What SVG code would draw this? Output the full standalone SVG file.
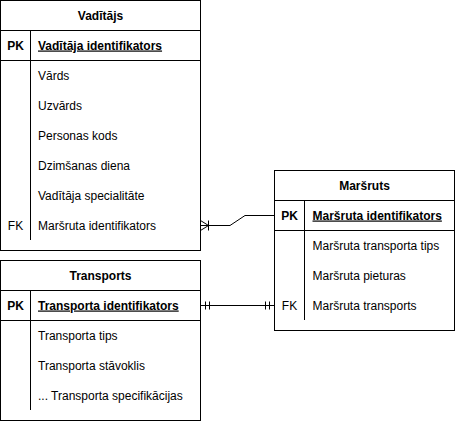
<svg xmlns="http://www.w3.org/2000/svg" width="455" height="421" viewBox="0 0 455 421">
<style>
text{font-family:"Liberation Sans",Arial,sans-serif;font-size:12px;fill:#000}
.t{font-weight:bold;text-anchor:middle}
.k{text-anchor:middle}
.pk{font-weight:bold;text-anchor:middle}
.pkn{font-weight:bold;text-decoration:underline}
.box{fill:#fff;stroke:#000;stroke-width:1}
.ln{fill:none;stroke:#000;stroke-width:1}
</style>
<rect width="455" height="421" fill="#fff"/>
<g id="connectors">
<path class="ln" d="M200.5 225.5 H230 L245 215.5 H274.5"/>
<path class="ln" d="M200.5 220.5 L208.5 225.5 L200.5 230.5 M208.5 220.5 V230.5"/>
<path class="ln" d="M200.5 305.5 H274.5"/>
<path class="ln" d="M205.5 301.5 V309.5 M209.5 301.5 V309.5 M265.5 301.5 V309.5 M269.5 301.5 V309.5"/>
</g>
<g id="vaditajs">
<rect class="box" x="0.5" y="0.5" width="200" height="250"/>
<path class="ln" d="M0.5 30.5 H200.5 M0.5 60.5 H200.5 M30.5 30.5 V240"/>
<text class="t" x="100.5" y="19.5">Vadītājs</text>
<text class="pk" x="15.5" y="49.5">PK</text>
<text class="pkn" x="38" y="49.5">Vadītāja identifikators</text>
<text x="38" y="79.5">Vārds</text>
<text x="38" y="109.5">Uzvārds</text>
<text x="38" y="139.5">Personas kods</text>
<text x="38" y="169.5">Dzimšanas diena</text>
<text x="38" y="199.5">Vadītāja specialitāte</text>
<text class="k" x="15.5" y="229.5">FK</text>
<text x="38" y="229.5">Maršruta identifikators</text>
</g>
<g id="transports">
<rect class="box" x="0.5" y="260.5" width="200" height="160"/>
<path class="ln" d="M0.5 290.5 H200.5 M0.5 320.5 H200.5 M30.5 290.5 V410"/>
<text class="t" x="100.5" y="279.5">Transports</text>
<text class="pk" x="15.5" y="309.5">PK</text>
<text class="pkn" x="38" y="309.5">Transporta identifikators</text>
<text x="38" y="339.5">Transporta tips</text>
<text x="38" y="369.5">Transporta stāvoklis</text>
<text x="38" y="399.5">... Transporta specifikācijas</text>
</g>
<g id="marsruts">
<rect class="box" x="274.5" y="170.5" width="180" height="160"/>
<path class="ln" d="M274.5 200.5 H454.5 M274.5 230.5 H454.5 M304.5 200.5 V320"/>
<text class="t" x="364.5" y="189.5">Maršruts</text>
<text class="pk" x="289.5" y="219.5">PK</text>
<text class="pkn" x="312.5" y="219.5">Maršruta identifikators</text>
<text x="312.5" y="249.5">Maršruta transporta tips</text>
<text x="312.5" y="279.5">Maršruta pieturas</text>
<text class="k" x="289.5" y="309.5">FK</text>
<text x="312.5" y="309.5">Maršruta transports</text>
</g>
</svg>
